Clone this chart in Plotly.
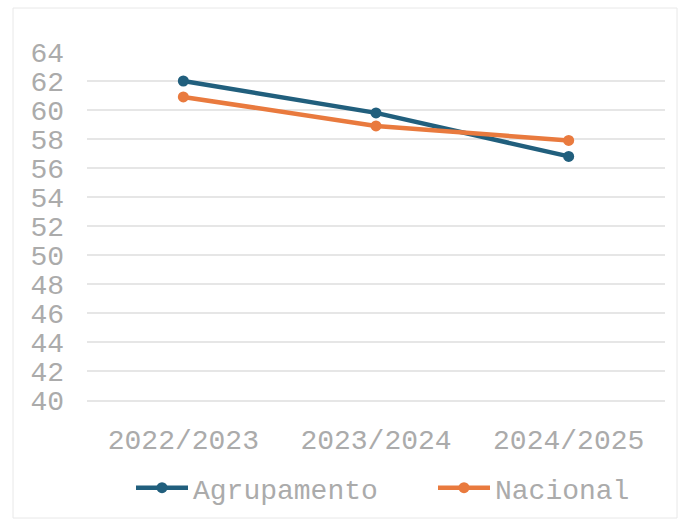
import plotly.graph_objects as go

# Data
anos = ["2022/2023", "2023/2024", "2024/2025"]
agrupamento = [62.0, 59.8, 56.8]
nacional = [60.9, 58.9, 57.9]
y_ticks = list(range(40, 66, 2))

W, H = 678, 523
L, R, T, B = 87, 13, 52, 123

fig = go.Figure()
fig.add_trace(go.Scatter(
    x=anos, y=agrupamento, name="Agrupamento", mode="lines+markers",
    line=dict(color="#215F7D", width=4.5),
    marker=dict(size=11, color="#215F7D"),
    legend="legend",
))
fig.add_trace(go.Scatter(
    x=anos, y=nacional, name="Nacional", mode="lines+markers",
    line=dict(color="#E97A3E", width=4.5),
    marker=dict(size=11, color="#E97A3E"),
    legend="legend2",
))

pw, ph = W - L - R, H - T - B
def px_to_paper(x, y):
    return (x - L) / pw, (H - B - y) / ph

x0, y0 = px_to_paper(13, 8)
x1, y1 = px_to_paper(677, 518)
fig.add_shape(type="rect", xref="paper", yref="paper",
              x0=x0, y0=y1, x1=x1, y1=y0,
              line=dict(color="#E8E8E8", width=1), layer="below")

mono = "Liberation Mono, Courier New, monospace"
tick_font = dict(family=mono, size=28, color="#ABABAB")
legend_common = dict(orientation="h", yanchor="middle", xanchor="left",
                     font=dict(family=mono, size=28, color="#ABABAB"),
                     itemwidth=52, bgcolor="rgba(0,0,0,0)")

leg_y = px_to_paper(0, 488)[1]
fig.update_layout(
    width=W, height=H,
    margin=dict(l=L, r=R, t=T, b=B, autoexpand=False),
    paper_bgcolor="white", plot_bgcolor="white",
    showlegend=True,
    legend=dict(x=px_to_paper(131, 0)[0], y=leg_y, **legend_common),
    legend2=dict(x=px_to_paper(433, 0)[0], y=leg_y, **legend_common),
    xaxis=dict(type="category", range=[-0.5, 2.5], showgrid=False, zeroline=False,
               showline=True, linecolor="#E6E6E6", linewidth=1.5,
               ticks="", tickfont=tick_font, ticklabelstandoff=14),
    yaxis=dict(range=[40, 64], tickvals=y_ticks, ticktext=[str(v) for v in y_ticks],
               showgrid=True, gridcolor="#E6E6E6", gridwidth=1.5, zeroline=False,
               showline=False, ticks="", tickfont=tick_font, ticklabelstandoff=22),
)

fig.write_html("out.html")
